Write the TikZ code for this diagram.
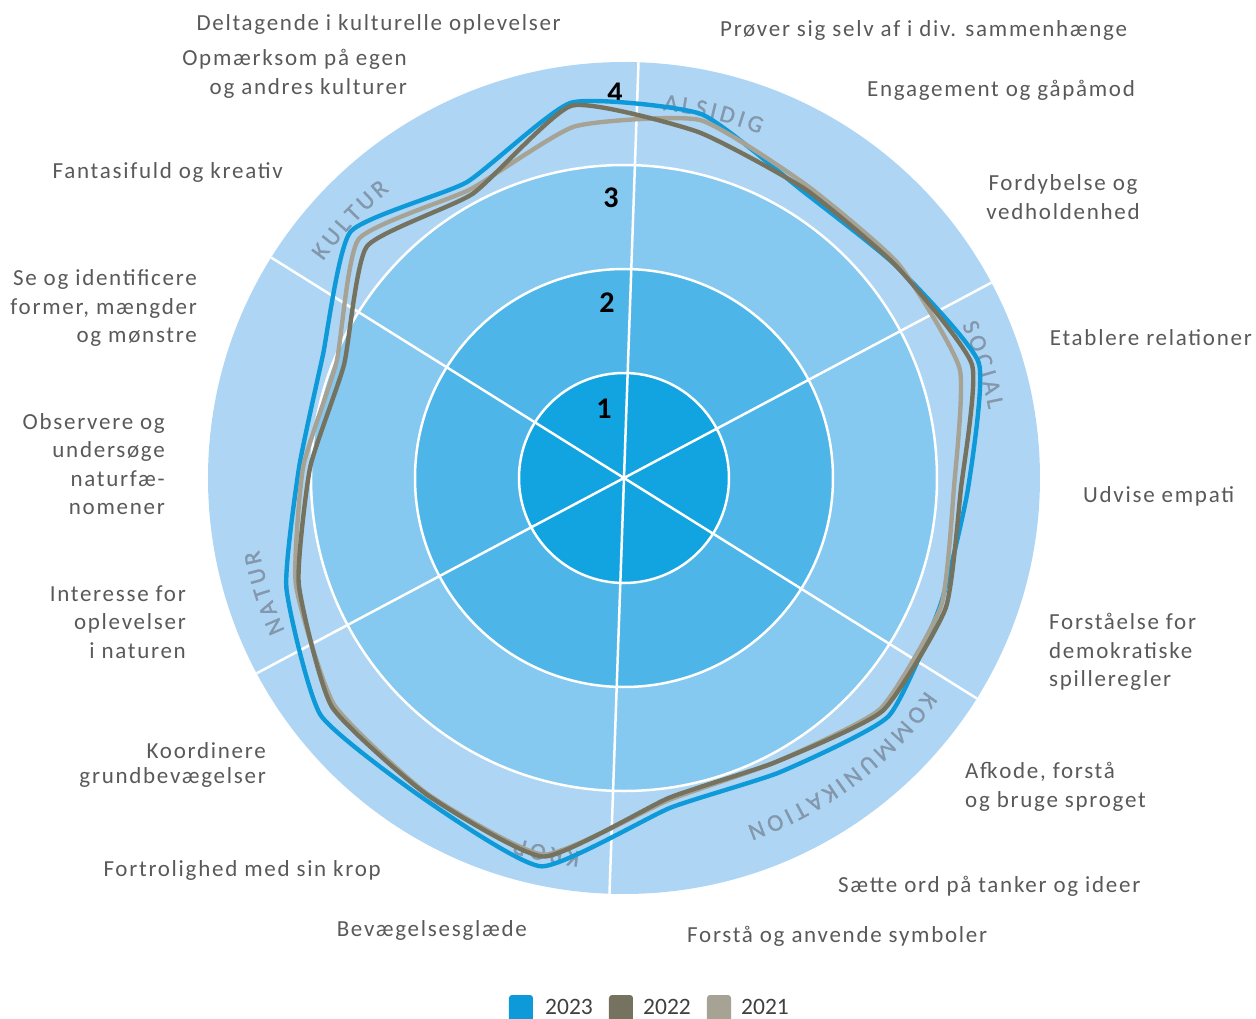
\documentclass[tikz,border=0pt]{standalone}
\usepackage{fontspec}
\setmainfont{Carlito}
\newfontfamily\lblfont[LetterSpace=7.5]{Carlito}
\newfontfamily\secfont[FakeBold=1.2]{Carlito}
\usetikzlibrary{decorations.text}
\definecolor{ringA}{HTML}{12A3E1}
\definecolor{ringB}{HTML}{4DB5E8}
\definecolor{ringC}{HTML}{85C8F0}
\definecolor{ringD}{HTML}{AED6F4}
\definecolor{ser23}{HTML}{0E9AD8}
\definecolor{ser22}{HTML}{75735F}
\definecolor{ser21}{HTML}{A6A394}
\definecolor{lbltxt}{HTML}{595959}
\definecolor{legtxt}{HTML}{404040}
\definecolor{sectxt}{HTML}{8397AD}
\tikzset{
  lbl/.style={font=\lblfont\fontsize{23}{28.5}\selectfont, text=lbltxt, inner sep=0pt},
  numlbl/.style={font=\bfseries\fontsize{30}{30}\selectfont, text=black, inner sep=0pt},
  gridline/.style={white, line width=2.5pt},
  series/.style={line width=4.4pt, line join=round},
  legbox/.style={rounded corners=3pt},
  legtext/.style={font=\fontsize{23.5}{23.5}\selectfont, text=legtxt, inner sep=0pt, anchor=west},
  seclabel/.style={decorate, decoration={text along path, text align=center, text color=sectxt,
      text={|\secfont\fontsize{24}{24}\selectfont\kern3.8pt|#1}}}
}
\begin{document}
\begin{tikzpicture}[x=1pt,y=1pt]
\useasboundingbox (-624,-540) rectangle (632,478);
% rings
\fill[ringD] (0,0) circle[radius=416pt];
\fill[ringC] (0,0) circle[radius=313pt];
\fill[ringB] (0,0) circle[radius=209pt];
\fill[ringA] (0,0) circle[radius=105pt];
\foreach \r in {105,209,313} \draw[gridline] (0,0) circle[radius=\r pt];
\foreach \a in {28,88,148} \draw[gridline] (\a:416) -- (\a+180:416);
% sector labels
\path[seclabel=ALSIDIG] (121.5:370) arc[start angle=121.5, end angle=31.5, radius=370pt];
\path[seclabel=SOCIAL] (62.8:371) arc[start angle=62.8, end angle=-27.2, radius=371pt];
\path[seclabel=KOMMUNIKATION] (-7.6:369) arc[start angle=-7.6, end angle=-97.6, radius=369pt];
\path[seclabel=KROP] (-56.4:376) arc[start angle=-56.4, end angle=-146.4, radius=376pt];
\path[seclabel=NATUR] (243:372) arc[start angle=243, end angle=153, radius=372pt];
\path[seclabel=KULTUR] (182:371) arc[start angle=182, end angle=92, radius=371pt];
% numbers
\node[numlbl] (n1) at (-20,69) {1};
\node[numlbl] (n2) at (-17,175) {2};
\node[numlbl] (n3) at (-13,280) {3};
\node[numlbl] (n4) at (-9,385) {4};
% series
\draw[series, ser23] plot[smooth cycle, tension=0.3] coordinates {(78:372) (58:338) (38:345) (18:373) (-2:344) (-22:341) (-42:356) (-62:333) (-82:333) (-102:397) (-122:378) (-142:385) (-162:355) (-182:325) (-202:325) (-222:368) (-242:335) (-262:379)};
\draw[series, ser21] plot[smooth cycle, tension=0.3] coordinates {(78:366) (58:345) (38:348) (18:353) (-2:330) (-22:342) (-42:345) (-62:322) (-82:325) (-102:385) (-122:372) (-142:368) (-162:345) (-182:321) (-202:310) (-222:357) (-242:327) (-262:355)};
\draw[series, ser22] plot[smooth cycle, tension=0.3] coordinates {(78:354) (58:341) (38:345) (18:366) (-2:337) (-22:347) (-42:348) (-62:322) (-82:323) (-102:387) (-122:373) (-142:371) (-162:342) (-182:314) (-202:302) (-222:346) (-242:322) (-262:376)};
% criterion labels
\node[lbl, anchor=west] (l1) at (96,448) {Prøver sig selv af i div. sammenhænge};
\node[lbl, anchor=west] (l2) at (243,388) {Engagement og gåpåmod};
\node[lbl, align=center] (l3) at (439,281) {Fordybelse og\\vedholdenhed};
\node[lbl, anchor=east] (l4) at (628,140) {Etablere relationer};
\node[lbl, anchor=west] (l5) at (459,-18) {Udvise empati};
\node[lbl, anchor=west, align=left] (l6) at (425,-174) {Forståelse for\\demokratiske\\spilleregler};
\node[lbl, anchor=west, align=left] (l7) at (341,-309) {Afkode, forstå\\og bruge sproget};
\node[lbl, anchor=west] (l8) at (214,-408) {Sætte ord på tanker og ideer};
\node[lbl, anchor=west] (l9) at (63,-458) {Forstå og anvende symboler};
\node[lbl, anchor=east] (l10) at (-97,-452) {Bevægelsesglæde};
\node[lbl, anchor=east] (l11) at (-243,-392) {Fortrolighed med sin krop};
\node[lbl, anchor=east, align=right, font=\lblfont\fontsize{23}{25}\selectfont] (l12) at (-358,-287) {Koordinere\\grundbevægelser\hspace{6pt}};
\node[lbl, anchor=east, align=right] (l13) at (-438,-144) {Interesse for\\oplevelser\\i naturen};
\node[lbl, anchor=east, align=right] (l14) at (-459,14) {Observere og\\undersøge\\naturfæ-\\nomener};
\node[lbl, anchor=east, align=right] (l15) at (-427,170) {Se og identificere\\former, mængder\\og mønstre};
\node[lbl, anchor=east] (l16) at (-341,306) {Fantasifuld og kreativ};
\node[lbl, anchor=east, align=right] (l17) at (-217,404) {Opmærksom på egen\\og andres kulturer};
\node[lbl, anchor=east] (l18) at (-63,454) {Deltagende i kulturelle oplevelser};
% legend
\fill[ser23, legbox] (-115,-545) rectangle (-91,-517);
\node[legtext] (g1) at (-79,-529) {2023};
\fill[ser22, legbox] (-15,-545) rectangle (9,-517);
\node[legtext] (g2) at (19,-529) {2022};
\fill[ser21, legbox] (83,-545) rectangle (107,-517);
\node[legtext] (g3) at (117,-529) {2021};
\end{tikzpicture}
\end{document}
